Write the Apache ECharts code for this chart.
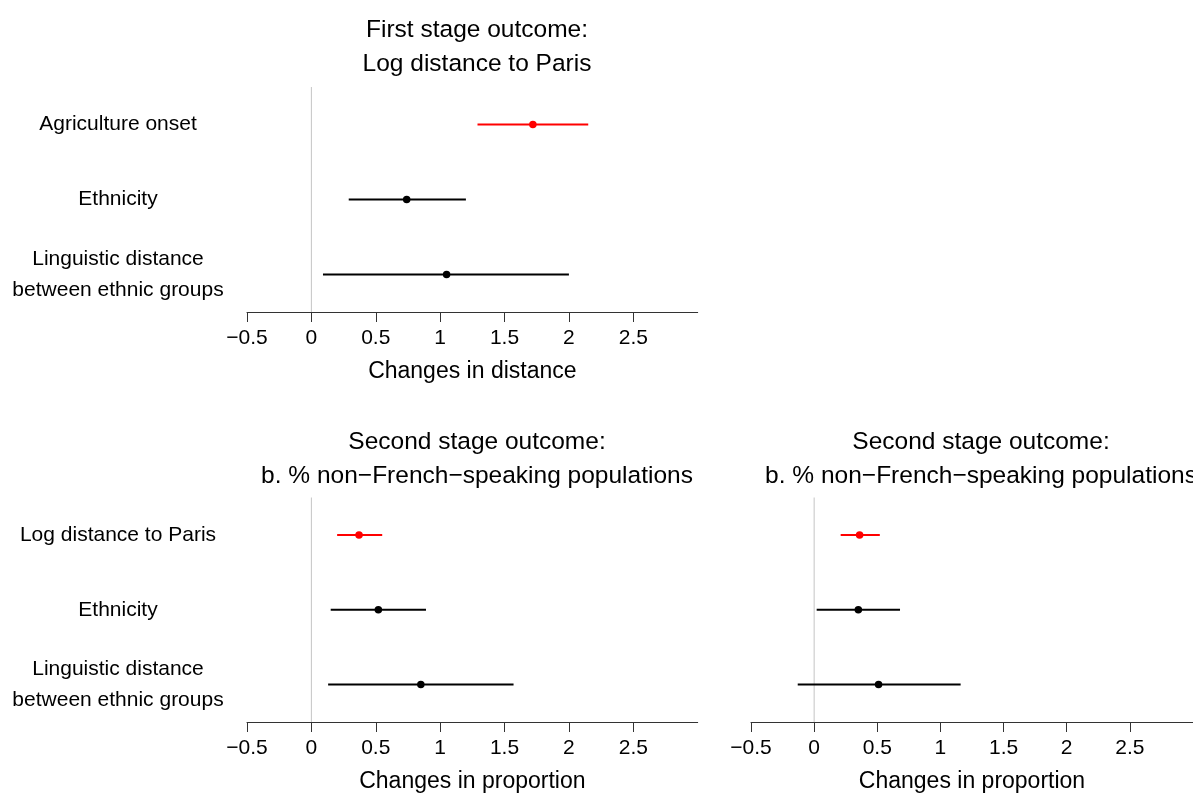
<!DOCTYPE html>
<html>
<head>
<meta charset="utf-8">
<script src="https://cdn.jsdelivr.net/npm/echarts@6/dist/echarts.min.js"></script>
<style>
html,body{margin:0;padding:0;background:#fff;}
#chart{width:1193px;height:794px;}
</style>
</head>
<body>
<div id="chart"></div>
<script>
// ---- data ----
const catsTop = ['Agriculture onset', 'Ethnicity', 'Linguistic distance\nbetween ethnic groups'];
const catsBottom = ['Log distance to Paris', 'Ethnicity', 'Linguistic distance\nbetween ethnic groups'];

const p1Est = [1.72, 0.74, 1.05];
const p1Lo  = [1.29, 0.29, 0.09];
const p1Hi  = [2.15, 1.20, 2.00];

const p2Est = [0.37, 0.52, 0.85];
const p2Lo  = [0.20, 0.15, 0.13];
const p2Hi  = [0.55, 0.89, 1.57];

const p3Est = [0.36, 0.35, 0.51];
const p3Lo  = [0.21, 0.02, -0.13];
const p3Hi  = [0.52, 0.68, 1.16];

const tickVals = [-0.5, 0, 0.5, 1, 1.5, 2, 2.5];
const titleTop = 'First stage outcome:\nLog distance to Paris';
const titleBottom = 'Second stage outcome:\nb. % non\u2212French\u2212speaking populations';
const xNameTop = 'Changes in distance';
const xNameBottom = 'Changes in proportion';

// ---- build ----
const FONT = '"Liberation Sans", Arial, Helvetica, sans-serif';
const FS = 21;
const chart = echarts.init(document.getElementById('chart'), null, {renderer: 'canvas'});

const unit = 128.77;
const gridW = 3.5 * unit;
const grids = [
  {left: 247, top: 87, width: gridW, height: 225},
  {left: 247, top: 497.5, width: gridW, height: 225},
  {left: 751, top: 497.5, width: gridW, height: 225}
];

function xAxis(i, name) {
  return {
    type: 'value', gridIndex: i, min: -0.5, max: 3, interval: 0.5,
    name: name, nameLocation: 'middle', nameGap: 48,
    nameTextStyle: {fontFamily: FONT, fontSize: 23, color: '#000'},
    axisLine: {show: true, onZero: false, lineStyle: {color: '#333', width: 1}},
    axisTick: {show: true, length: 10, inside: false, lineStyle: {color: '#333', width: 1}, customValues: tickVals},
    axisLabel: {show: true, margin: 16, fontFamily: FONT, fontSize: FS, color: '#000', customValues: tickVals,
      formatter: v => (v < 0 ? '\u2212' + String(-v) : String(v))},
    splitLine: {show: false}
  };
}
function yAxis(i, cats, showLabels) {
  return {
    type: 'category', gridIndex: i, data: cats, inverse: true,
    axisLine: {show: false}, axisTick: {show: false}, splitLine: {show: false},
    axisLabel: {show: showLabels, align: 'center', margin: 129, fontFamily: FONT, fontSize: FS,
      lineHeight: 31, color: '#000', padding: [6, 0, 0, 0]}
  };
}

function rowColor(i) { return i === 0 ? '#ff0000' : '#000000'; }

function panelSeries(i, est, lo, hi) {
  const barData = lo.map((l, k) => [l, hi[k], k]);
  const ptData = est.map((e, k) => ({value: [e, k], itemStyle: {color: rowColor(k), opacity: 1}}));
  return [
    {
      type: 'custom', xAxisIndex: i, yAxisIndex: i, z: 1, silent: true,
      data: [[0]],
      renderItem: function (params, api) {
        const cs = params.coordSys;
        const x = api.coord([0, 0])[0];
        return {type: 'line', shape: {x1: x, y1: cs.y, x2: x, y2: cs.y + cs.height},
          style: {stroke: '#c4c4c4', lineWidth: 1}};
      }
    },
    {
      type: 'custom', xAxisIndex: i, yAxisIndex: i, z: 2, silent: true,
      encode: {x: [0, 1], y: 2},
      data: barData,
      renderItem: function (params, api) {
        const a = api.coord([api.value(0), api.value(2)]);
        const b = api.coord([api.value(1), api.value(2)]);
        return {type: 'line', shape: {x1: a[0], y1: a[1], x2: b[0], y2: b[1]},
          style: {stroke: rowColor(params.dataIndex), lineWidth: 2}};
      }
    },
    {
      type: 'scatter', xAxisIndex: i, yAxisIndex: i, z: 3, silent: true,
      symbol: 'circle', symbolSize: 7.5, data: ptData,
      itemStyle: {opacity: 1}
    }
  ];
}

const titleStyle = {fontFamily: FONT, fontSize: 24.5, fontWeight: 'normal', color: '#000', lineHeight: 34};
const option = {
  animation: false,
  backgroundColor: '#fff',
  title: [
    {text: titleTop, left: 472, top: 8, textAlign: 'center', textStyle: titleStyle},
    {text: titleBottom, left: 472, top: 420, textAlign: 'center', textStyle: titleStyle},
    {text: titleBottom, left: 976, top: 420, textAlign: 'center', textStyle: titleStyle}
  ],
  grid: grids,
  xAxis: [xAxis(0, xNameTop), xAxis(1, xNameBottom), xAxis(2, xNameBottom)],
  yAxis: [yAxis(0, catsTop, true), yAxis(1, catsBottom, true), yAxis(2, catsBottom, false)],
  series: [].concat(
    panelSeries(0, p1Est, p1Lo, p1Hi),
    panelSeries(1, p2Est, p2Lo, p2Hi),
    panelSeries(2, p3Est, p3Lo, p3Hi)
  )
};
chart.setOption(option);
</script>
</body>
</html>
